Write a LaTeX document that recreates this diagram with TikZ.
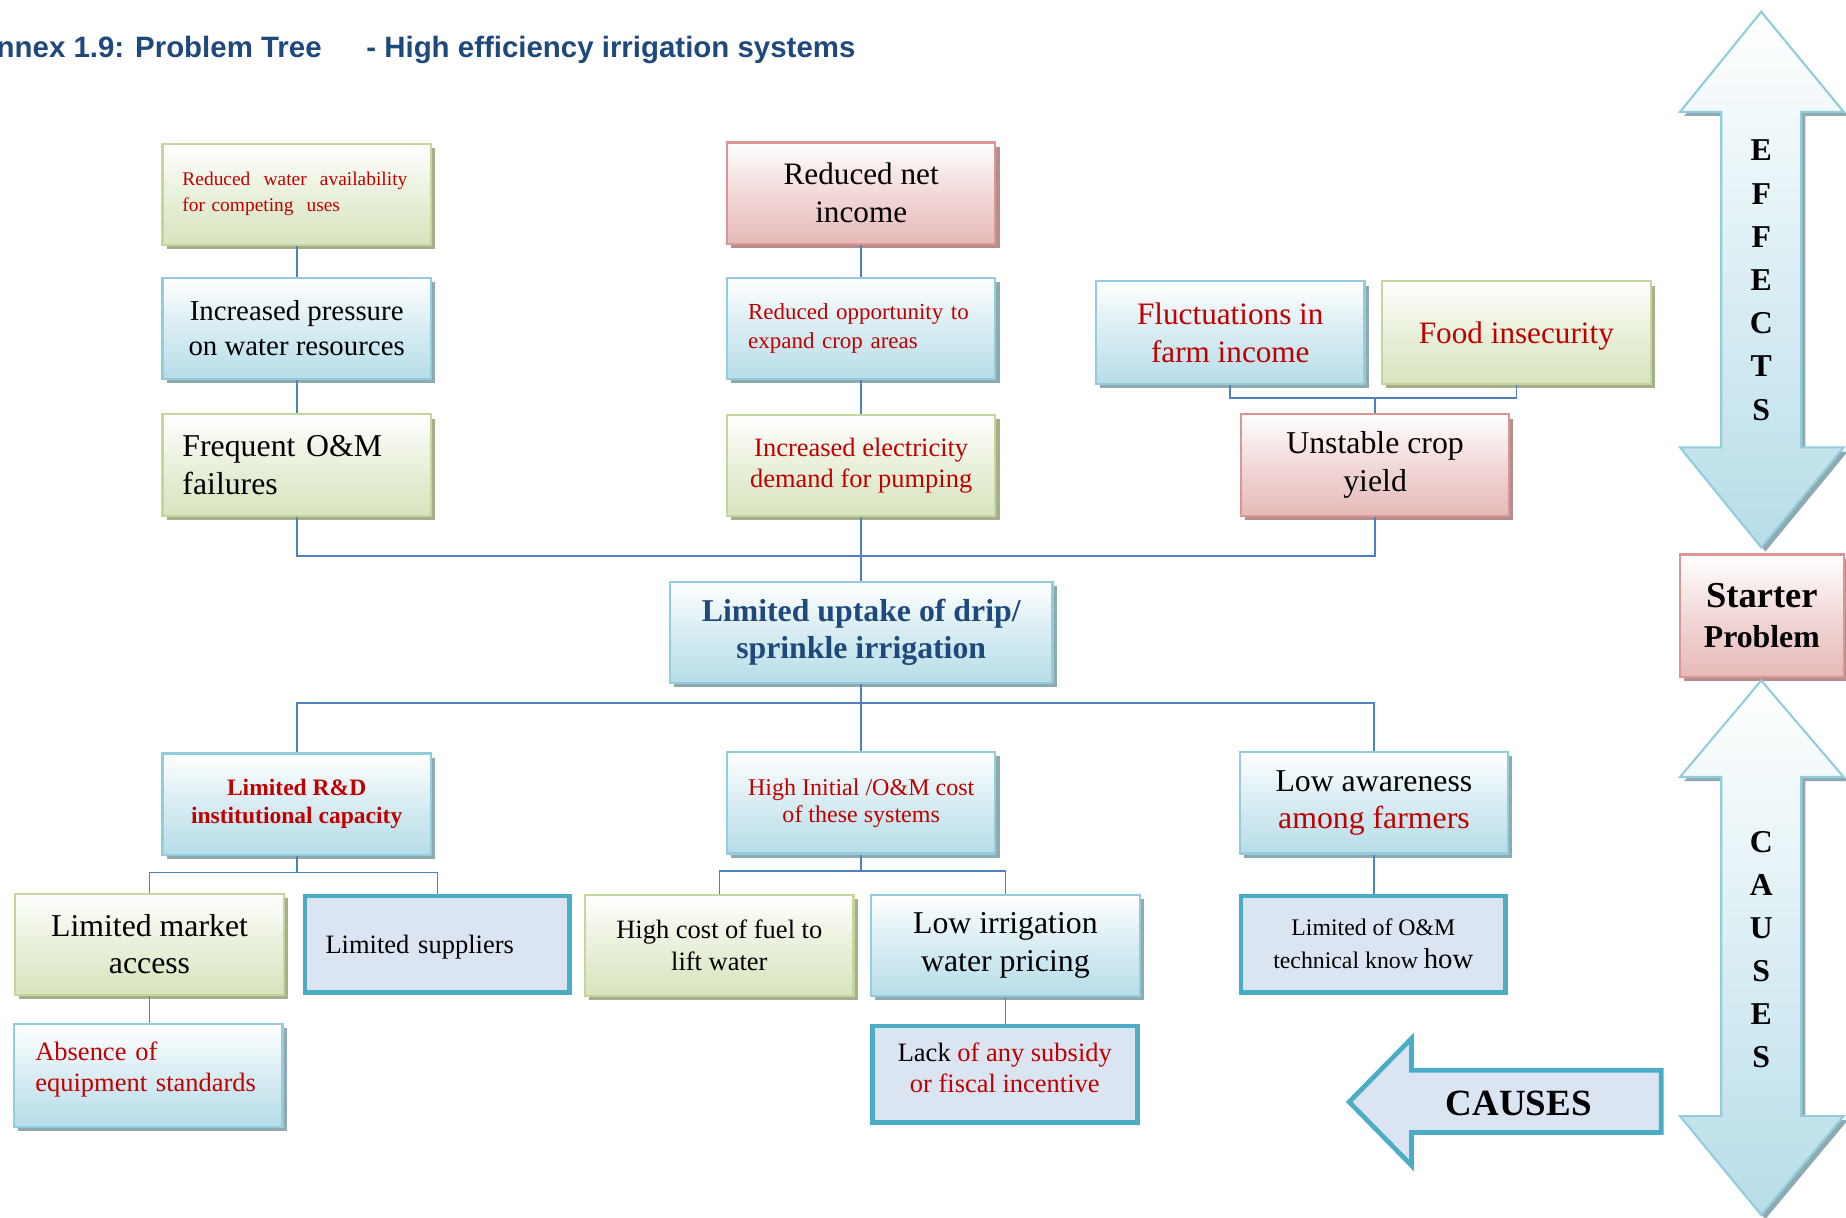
\documentclass[tikz,border=0pt]{standalone}
\usepackage{fontspec}
\setmainfont{Liberation Serif}
\newfontfamily\headfont{Liberation Sans}
\usetikzlibrary{shadows}

\definecolor{bluefill}{HTML}{B7DDE8}
\definecolor{bluedraw}{HTML}{93CDDD}
\definecolor{blueshade}{HTML}{8FA9B1}
\definecolor{greenfill}{HTML}{D7E4BD}
\definecolor{greendraw}{HTML}{C3D69B}
\definecolor{greenshade}{HTML}{A6AF8B}
\definecolor{pinkfill}{HTML}{E6B9B8}
\definecolor{pinkdraw}{HTML}{D99694}
\definecolor{pinkshade}{HTML}{B38E8D}
\definecolor{tealdraw}{HTML}{4BACC6}
\definecolor{tealfill}{HTML}{DBE5F1}
\definecolor{redtext}{HTML}{C00000}
\definecolor{navy}{HTML}{1F497D}
\definecolor{linkblue}{HTML}{4F81BD}

\newcommand\fsz[2]{\fontsize{#1}{#2}\selectfont}
\newcommand\rd[1]{\textcolor{redtext}{#1}}

\tikzset{
  box/.style={rectangle, inner sep=0pt, minimum width=228pt, minimum height=86pt,
    line width=1.8pt, align=center},
  bluebox/.style={box, draw=bluedraw, top color=white, bottom color=bluefill,
    middle color=bluefill!55!white,
    general shadow={fill=blueshade, draw=none, shadow xshift=3.5pt, shadow yshift=-3.5pt}},
  greenbox/.style={box, draw=greendraw, top color=white, bottom color=greenfill,
    middle color=greenfill!55!white,
    general shadow={fill=greenshade, draw=none, shadow xshift=3.5pt, shadow yshift=-3.5pt}},
  pinkbox/.style={box, draw=pinkdraw, top color=white, bottom color=pinkfill,
    middle color=pinkfill!55!white,
    general shadow={fill=pinkshade, draw=none, shadow xshift=3.5pt, shadow yshift=-3.5pt}},
  tealbox/.style={box, draw=tealdraw, fill=tealfill, line width=4pt,
    minimum width=225pt, minimum height=82pt},
  conn/.style={draw=linkblue, line width=1.4pt},
  bigarrow/.style={draw=bluedraw, line width=1.8pt, top color=white, bottom color=bluefill,
    general shadow={fill=blueshade, draw=none, shadow xshift=3.5pt, shadow yshift=-3.5pt}},
}

\begin{document}
\begin{tikzpicture}[x=1pt, y=-1pt]
\useasboundingbox (0,0) rectangle (1568,1034);

% heading
\node[anchor=base west, inner sep=0pt, font=\headfont\bfseries\fsz{25}{30}, text=navy]
  (head1) at (-3,49) {nnex 1.9: Problem Tree};
\node[anchor=base west, inner sep=0pt, font=\headfont\bfseries\fsz{25}{30}, text=navy]
  (head2) at (311,49) {- High efficiency irrigation systems};

% effects
\node[greenbox, text width=194pt, align=left, font=\fsz{16.5}{22}, text=redtext]
  (w1) at (252,165) {\hbox to 191pt{Reduced\hfill water\hfill availability}\\for competing\ \ uses};
\node[pinkbox, font=\fsz{26.5}{32}] (w2) at (731.5,164) {Reduced net\\income};
\node[bluebox, font=\fsz{24.5}{30}] (w3) at (252,279) {Increased pressure\\on water resources};
\node[bluebox, text width=192pt, align=left, font=\fsz{19.5}{24}, text=redtext]
  (w4) at (731.5,279) {Reduced opportunity to\\expand crop areas};
\node[bluebox, minimum height=87pt, font=\fsz{26.5}{32}, text=redtext]
  (w5) at (1045,282.5) {Fluctuations in\\farm income};
\node[greenbox, minimum height=87pt, font=\fsz{26.5}{32}, text=redtext, text depth=0pt]
  (w6) at (1288,282.5) {Food insecurity};
\node[greenbox, text width=194pt, align=left, font=\fsz{27}{32}]
  (w7) at (252,395) {Frequent O\&M\\failures};
\node[greenbox, font=\fsz{22.5}{27}, text=redtext]
  (w8) at (731.5,395.5) {Increased electricity\\demand for pumping};
\node[pinkbox, font=\fsz{27}{32}] (w9) at (1168,395) {Unstable crop\\yield};

% core problem
\node[bluebox, minimum width=325pt, font=\bfseries\fsz{27}{31}, text=navy]
  (core) at (731.5,537) {Limited uptake of drip/\\sprinkle irrigation};

% causes
\node[bluebox, font=\bfseries\fsz{20}{24}, text=redtext]
  (c1) at (252,683) {Limited R\&D\\institutional capacity};
\node[bluebox, font=\fsz{20.4}{23}, text=redtext]
  (c2) at (731.5,682) {High Initial /O\&M cost\\of these systems};
\node[bluebox, font=\fsz{27}{31}] (c3) at (1167,682) {Low awareness\\\rd{among farmers}};

\node[greenbox, font=\fsz{27}{32}] (d1) at (127,802) {Limited market\\access};
\node[tealbox, text width=190pt, align=left, font=\fsz{22.5}{27}, text depth=0pt]
  (d2) at (371.5,802) {Limited suppliers};
\node[greenbox, font=\fsz{22.5}{27}] (d3) at (611,803) {High cost of fuel to\\lift water};
\node[bluebox, font=\fsz{27}{32}] (d4) at (854,803) {Low irrigation\\water pricing};
\node[tealbox, font=\fsz{20.2}{28}]
  (d5) at (1166.5,802) {Limited of O\&M\\technical know {\fsz{24.4}{28}how}};

\node[bluebox, minimum height=87pt, text width=192pt, align=left, font=\fsz{22.5}{27},
  text=redtext, text depth=42pt]
  (e1) at (126,913.5) {Absence of\\equipment standards};
\node[tealbox, font=\fsz{22.5}{26}, text depth=11pt]
  (e2) at (853.5,912.5) {Lack \rd{of any subsidy}\\\rd{or fiscal incentive}};

% connectors
\coordinate (busR) at (0,338);
\coordinate (busTop) at (0,472);
\coordinate (busBot) at (0,597);
\coordinate (busC1) at (0,741);
\coordinate (busC2) at (0,740);

\draw[conn] (w1.south) -- (w3.north);
\draw[conn] (w3.south) -- (w7.north);
\draw[conn] (w2.south) -- (w4.north);
\draw[conn] (w4.south) -- (w8.north);
\draw[conn] (w5.south) -- (w5.south |- busR) -| (w6.south);
\draw[conn] (w9.north) -- (w9.north |- busR);
\draw[conn] (w7.south) -- (w7.south |- busTop) -| (w9.south);
\draw[conn] (w8.south) -- (core.north);

\draw[conn] (core.south) -- (c2.north);
\draw[conn] (c1.north) -- (c1.north |- busBot) -| (c3.north);

\draw[conn] (c1.south) -- (c1.south |- busC1);
\draw[conn] (d1.north) -- (d1.north |- busC1) -| (d2.north);
\draw[conn] (c2.south) -- (c2.south |- busC2);
\draw[conn] (d3.north) -- (d3.north |- busC2) -| (d4.north);
\draw[conn] (c3.south) -- (c3.south |- d5.north);
\draw[conn] (d1.south) -- (d1.south |- e1.north);
\draw[conn] (d4.south) -- (d4.south |- e2.north);

% CAUSES pointer
\draw[draw=tealdraw, fill=tealfill, line width=4pt, line join=miter]
  (1146,936) -- (1199,882) -- (1199,909) -- (1411,909) -- (1411,962)
  -- (1199,962) -- (1199,990) -- cycle;
\node[font=\bfseries\fsz{31.4}{34}] (causeword) at (1290,937) {CAUSES};

% side arrows and starter problem
\path[bigarrow] (1496,10) -- (1566,95) -- (1530,95) -- (1530,380) -- (1566,380)
  -- (1496,465) -- (1427,380) -- (1462,380) -- (1462,95) -- (1427,95) -- cycle;
\node[font=\bfseries\fsz{27}{36.7}, align=center, inner sep=0pt]
  (effword) at (1496,238) {E\\F\\F\\E\\C\\T\\S};

\node[pinkbox, minimum width=139pt, minimum height=104pt, font=\bfseries\fsz{27}{34}]
  (starter) at (1496.5,523) {{\fsz{31}{34}Starter}\\Problem};

\path[bigarrow] (1496,578) -- (1566,660) -- (1530,660) -- (1530,948) -- (1566,948)
  -- (1496,1032) -- (1427,948) -- (1462,948) -- (1462,660) -- (1427,660) -- cycle;
\node[font=\bfseries\fsz{27}{36.6}, align=center, inner sep=0pt]
  (causeletters) at (1496,806.5) {C\\A\\U\\S\\E\\S};
\end{tikzpicture}
\end{document}
